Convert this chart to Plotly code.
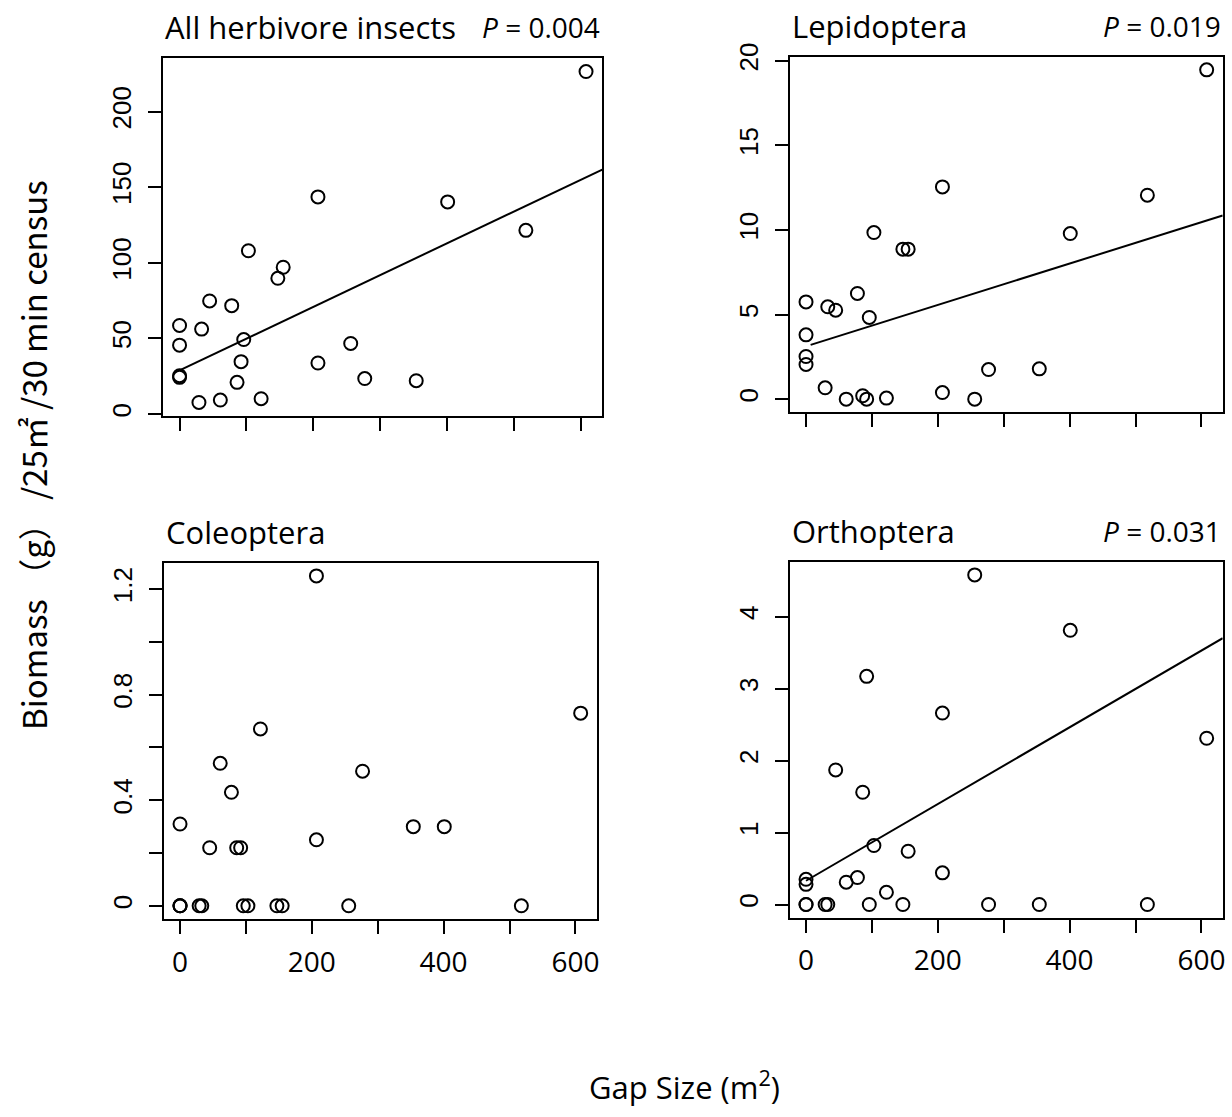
import plotly.graph_objects as go

# ---------------- data ----------------
gap_size = [0, 0, 0, 0, 29, 33, 45, 61, 78, 86, 92, 96, 103, 122, 147, 155,
            207, 207, 256, 277, 354, 401, 518, 608]

all_herbivore = [58.6, 45.6, 25.4, 24.3, 7.7, 56.2, 74.8, 9.3, 71.7, 21.0, 34.7, 49.3,
                 108.0, 10.2, 89.8, 97.1, 143.6, 33.8, 46.7, 23.5, 22.1, 140.3, 121.5, 226.5]
lepidoptera = [5.75, 3.80, 2.52, 2.05, 0.67, 5.46, 5.26, 0.0, 6.25, 0.20, 0.0, 4.83,
               9.85, 0.06, 8.87, 8.87, 12.55, 0.39, 0.0, 1.75, 1.79, 9.79, 12.06, 19.47]
coleoptera = [0.31, 0.0, 0.0, 0.0, 0.0, 0.0, 0.22, 0.54, 0.43, 0.22, 0.22, 0.0,
              0.0, 0.67, 0.0, 0.0, 1.25, 0.25, 0.0, 0.51, 0.30, 0.30, 0.0, 0.73]
orthoptera = [0.35, 0.28, 0.0, 0.0, 0.0, 0.0, 1.87, 0.31, 0.375, 1.56, 3.17, 0.0,
              0.82, 0.17, 0.0, 0.74, 2.66, 0.44, 4.58, 0.0, 0.0, 3.81, 0.0, 2.31]

panel_titles = ["All herbivore insects", "Lepidoptera", "Coleoptera", "Orthoptera"]
p_values = ["0.004", "0.019", None, "0.031"]

# regression lines (intercept, slope, start x)
line_intercepts = [28.9, 3.12, None, 0.33]
line_slopes = [0.2100, 0.01224, None, 0.00533]
line_starts = [0, 7, None, 0]

# x axis: labelled ticks and unlabelled minor ticks
x_label_step = 200
x_tick_step = 100
# y axis: labelled tick step and tick step per panel
y_label_steps = [50, 5, 0.4, 1]
y_tick_steps = [50, 5, 0.2, 1]

series = [all_herbivore, lepidoptera, coleoptera, orthoptera]

# ---------------- layout geometry ----------------
W, H = 1232, 1117
# panel boxes in pixels: (left, right, top, bottom)
boxes = [
    (163.3, 602.3, 58.3, 415.7),
    (790.0, 1222.7, 56.7, 412.3),
    (164.0, 596.7, 562.7, 919.0),
    (790.0, 1222.7, 561.7, 917.7),
]


def r_range(vals):
    lo, hi = min(vals), max(vals)
    d = (hi - lo) * 0.04
    return [lo - d, hi + d]


tick_style = dict(ticks="outside", ticklen=13, tickwidth=2, tickcolor="black")

fig = go.Figure()

for i in range(4):
    xa = "x" if i == 0 else f"x{i+1}"
    ya = "y" if i == 0 else f"y{i+1}"
    xr = r_range(gap_size)
    yr = r_range(series[i])
    fig.add_trace(go.Scatter(
        x=gap_size, y=series[i], mode="markers", xaxis=xa, yaxis=ya,
        marker=dict(symbol="circle-open", size=13, color="black",
                    line=dict(width=2, color="black")),
        showlegend=False, hoverinfo="skip", cliponaxis=False,
    ))
    if line_slopes[i] is not None:
        lx = [line_starts[i], xr[1]]
        ly = [line_intercepts[i] + line_slopes[i] * v for v in lx]
        fig.add_trace(go.Scatter(
            x=lx, y=ly, mode="lines", xaxis=xa, yaxis=ya,
            line=dict(color="black", width=2),
            showlegend=False, hoverinfo="skip",
        ))
    l, r, t, b = boxes[i]
    bottom_row = i >= 2
    xstep = x_label_step if bottom_row else x_tick_step
    xaxis = dict(
        domain=[l / W, r / W], anchor=ya, range=xr, automargin=False,
        tickmode="linear", tick0=0, dtick=xstep,
        showticklabels=bottom_row, ticklabelstandoff=4,
        showline=True, mirror=True, linewidth=2, linecolor="black",
        showgrid=False, zeroline=False,
        tickfont=dict(family="Open Sans", size=28, color="black"),
        **tick_style,
    )
    if xstep != x_tick_step:
        xaxis["minor"] = dict(tickmode="linear", tick0=0, dtick=x_tick_step,
                              showgrid=False, **tick_style)
    yaxis = dict(
        domain=[1 - b / H, 1 - t / H], anchor=xa, range=yr, automargin=False,
        tickmode="linear", tick0=0, dtick=y_label_steps[i],
        tickangle=-90, ticklabelstandoff=7,
        showline=True, mirror=True, linewidth=2, linecolor="black",
        showgrid=False, zeroline=False,
        tickfont=dict(family="Liberation Sans", size=26, color="black"),
        **tick_style,
    )
    if y_tick_steps[i] != y_label_steps[i]:
        yaxis["minor"] = dict(tickmode="linear", tick0=0, dtick=y_tick_steps[i],
                              showgrid=False, **tick_style)
    fig.update_layout(**{
        ("xaxis" if i == 0 else f"xaxis{i+1}"): xaxis,
        ("yaxis" if i == 0 else f"yaxis{i+1}"): yaxis,
    })
    # panel title (left) and P value (right)
    fig.add_annotation(
        text=panel_titles[i], xref=f"{xa} domain", yref=f"{ya} domain",
        x=0, y=1, xanchor="left", yanchor="middle", yshift=31, showarrow=False,
        font=dict(family="Open Sans", size=31, color="black"),
    )
    if p_values[i] is not None:
        fig.add_annotation(
            text=f"<i>P</i> = {p_values[i]}", xref=f"{xa} domain", yref=f"{ya} domain",
            x=1, y=1, xanchor="right", yanchor="middle", yshift=31, showarrow=False,
            font=dict(family="Open Sans", size=28, color="black"),
        )

# shared axis titles
fig.add_annotation(
    text="Biomass （g） /25㎡ /30 min census", xref="paper", yref="paper",
    x=33 / W, y=1 - 455 / H, xanchor="center", yanchor="middle", textangle=-90,
    showarrow=False, font=dict(family="Noto Sans CJK JP", size=33, color="black"),
)
fig.add_annotation(
    text="Gap Size (m<sup>2</sup>)", xref="paper", yref="paper",
    x=684 / W, y=1 - 1085 / H, xanchor="center", yanchor="middle",
    showarrow=False, font=dict(family="Open Sans", size=31, color="black"),
)

fig.update_layout(
    width=W, height=H, margin=dict(l=0, r=0, t=0, b=0, autoexpand=False),
    paper_bgcolor="white", plot_bgcolor="white",
)

fig.write_html(
    "out.html",
    config={"displayModeBar": False},
    post_script="document.body.style.margin='0';document.body.style.overflow='hidden';",
)
